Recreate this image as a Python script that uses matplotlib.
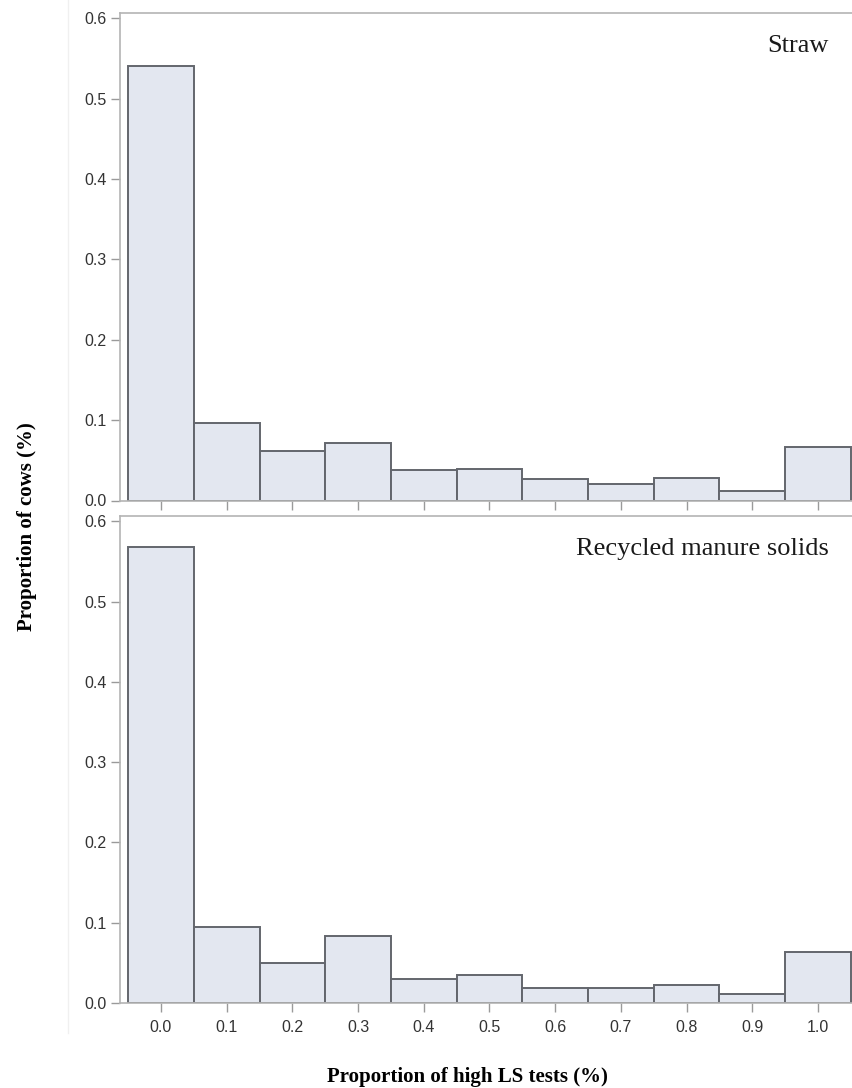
import numpy as np
import matplotlib
matplotlib.use("Agg")
import matplotlib.pyplot as plt
from matplotlib.lines import Line2D

# Histogram bins (proportion of high LS tests)
bins = [0.0, 0.1, 0.2, 0.3, 0.4, 0.5, 0.6, 0.7, 0.8, 0.9, 1.0]
tick_labels = ["0.0", "0.1", "0.2", "0.3", "0.4", "0.5", "0.6", "0.7", "0.8", "0.9", "1.0"]

# Proportion of cows in each bin, by bedding type
straw = [0.541, 0.097, 0.061, 0.072, 0.038, 0.039, 0.027, 0.020, 0.028, 0.012, 0.066]
manure_solids = [0.568, 0.095, 0.050, 0.084, 0.030, 0.035, 0.019, 0.019, 0.022, 0.011, 0.063]

panels = [("Straw", straw), ("Recycled manure solids", manure_solids)]
y_ticks = [0.0, 0.1, 0.2, 0.3, 0.4, 0.5, 0.6]

bar_fill = "#e3e7f0"
bar_edge = "#63666d"
spine_col = "#b4b4b4"
tick_col = "#9a9a9a"
label_col = "#333333"

fig = plt.figure(figsize=(8.52, 10.88), dpi=100)
W, H = 852.0, 1088.0

# axes boxes in pixels: left, top, bottom
boxes = [(120, 12.7, 500.5), (120, 515.7, 1003.0)]
axes = []
for i, ((name, vals), (l, t, b)) in enumerate(zip(panels, boxes)):
    ax = fig.add_axes([l / W, 1 - b / H, 1 - l / W, (b - t) / H])
    ax.bar(bins, vals, width=0.1, align="center", color=bar_fill,
           edgecolor=bar_edge, linewidth=1.4, zorder=2)
    ax.set_xlim(-0.0624, 1.0518)
    ax.set_ylim(0, 0.6072)
    ax.set_xticks(bins)
    ax.set_yticks(y_ticks)
    ax.set_yticklabels(["%.1f" % v for v in y_ticks])
    if i == 1:
        ax.set_xticklabels(tick_labels)
    else:
        ax.set_xticklabels([])
    ax.tick_params(axis="both", direction="out", length=6.5, width=1.0,
                   color=tick_col, labelcolor=label_col, labelsize=11.5)
    ax.tick_params(axis="x", pad=6)
    ax.tick_params(axis="y", pad=3)
    for side in ["left", "top", "bottom"]:
        ax.spines[side].set_color(spine_col)
        ax.spines[side].set_linewidth(1.2)
    ax.spines["right"].set_visible(False)
    for lab in ax.get_xticklabels() + ax.get_yticklabels():
        lab.set_fontfamily("Liberation Sans")
    ax.text(0.9686, 1 - 39.0 / (b - t), name, transform=ax.transAxes,
            ha="right", va="baseline", fontsize=19, family="Liberation Serif",
            color="#1a1a1a")
    axes.append(ax)

# faint frame edge of the graph area
fig.add_artist(Line2D([68 / W, 68 / W], [1 - 1033 / H, 1.0],
                      transform=fig.transFigure, color="#f0f0f0", linewidth=1))

fig.text(467 / W, 1 - 1077 / H, "Proportion of high LS tests (%)",
         ha="center", va="center", fontsize=15, fontweight="bold",
         family="Liberation Serif", color="black")
fig.text(27 / W, 1 - 527 / H, "Proportion of cows (%)", rotation=90,
         ha="center", va="center", fontsize=15, fontweight="bold",
         family="Liberation Serif", color="black")

fig.savefig("out.png", dpi=100)
